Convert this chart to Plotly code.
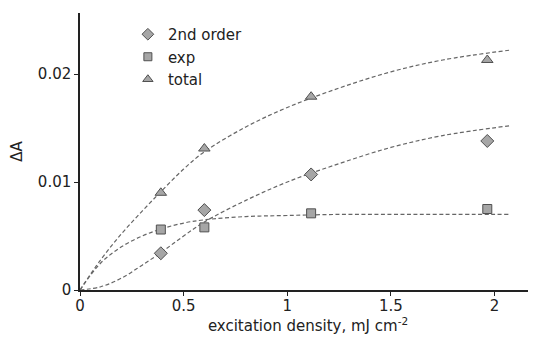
import plotly.graph_objects as go

# Measured points
x_pts = [0.39, 0.60, 1.115, 1.965]
second_order = [0.0034, 0.0074, 0.0107, 0.0138]
exp_vals = [0.0056, 0.0058, 0.0071, 0.0075]
total_vals = [0.0090, 0.0131, 0.0179, 0.0213]

# Fit curves
x_fit = [0, 0.1, 0.2, 0.3, 0.4, 0.5, 0.6, 0.8, 1.0, 1.25, 1.5, 1.75, 2.07]
fit_second = [0, 0.0003, 0.0011, 0.0023, 0.0036, 0.0050, 0.0063, 0.0083, 0.0100, 0.0117, 0.0132, 0.0143, 0.0152]
fit_exp = [0, 0.0025, 0.0040, 0.0050, 0.0057, 0.0062, 0.0065, 0.0068, 0.0069, 0.0070, 0.0070, 0.0070, 0.0070]
fit_total = [0, 0.0028, 0.0052, 0.0073, 0.0093, 0.0112, 0.0128, 0.0151, 0.0169, 0.0187, 0.0202, 0.0213, 0.0222]

series_names = ["2nd order", "exp", "total"]
x_ticks = [0, 0.5, 1, 1.5, 2]
x_tick_labels = ["0", "0.5", "1", "1.5", "2"]
y_ticks = [0, 0.01, 0.02]
y_tick_labels = ["0", "0.01", "0.02"]

FONT = "DejaVu Sans"
line_style = dict(color="#666666", width=1.2, dash="4px,2.5px", shape="spline")
mfill = "#a6a6a6"
mline = dict(color="#505050", width=1)
symbols = ["diamond", "square", "triangle-up"]
data_sizes = [10, 9, 10]
legend_sizes = [9, 8, 9]

fig = go.Figure()
for yv in (fit_second, fit_exp, fit_total):
    fig.add_trace(go.Scatter(x=x_fit, y=yv, mode="lines", line=line_style,
                             showlegend=False, hoverinfo="skip"))

for name, yv, sym, sz, lsz in zip(series_names, (second_order, exp_vals, total_vals),
                                 symbols, data_sizes, legend_sizes):
    fig.add_trace(go.Scatter(x=x_pts, y=yv, mode="markers", name=name, showlegend=False,
                             marker=dict(symbol=sym, size=sz, color=mfill, line=mline)))
    # legend entry with the smaller legend symbol
    fig.add_trace(go.Scatter(x=[None], y=[None], mode="markers", name=name,
                             marker=dict(symbol=sym, size=lsz, color=mfill, line=mline)))

fig.update_layout(
    width=528, height=329,
    margin=dict(l=72, r=0, t=5, b=47),
    paper_bgcolor="white", plot_bgcolor="white",
    font=dict(family=FONT, size=15, color="#222"),
    showlegend=True,
    legend=dict(x=0.105, y=0.982, xanchor="left", yanchor="top",
                bgcolor="rgba(0,0,0,0)", font=dict(size=15), tracegroupgap=0,
                itemwidth=30),
    xaxis=dict(range=[0, 2.2], tickvals=x_ticks, ticktext=x_tick_labels,
               showgrid=False, zeroline=False, showline=True, linecolor="#222",
               linewidth=1.5, ticks="outside", ticklen=4, tickcolor="#222",
               tickfont=dict(size=15), ticklabelstandoff=-3,
               title=dict(text="excitation density, mJ cm<sup>-2</sup>", standoff=7,
                          font=dict(size=15))),
    yaxis=dict(range=[0, 0.02565], tickvals=y_ticks, ticktext=y_tick_labels,
               showgrid=False, zeroline=False, showline=True, linecolor="#222",
               linewidth=1.5, ticks="outside", ticklen=4, tickcolor="#222",
               tickfont=dict(size=15),
               title=dict(text="ΔA", standoff=17, font=dict(size=15))),
)

fig.write_html("out.html")
